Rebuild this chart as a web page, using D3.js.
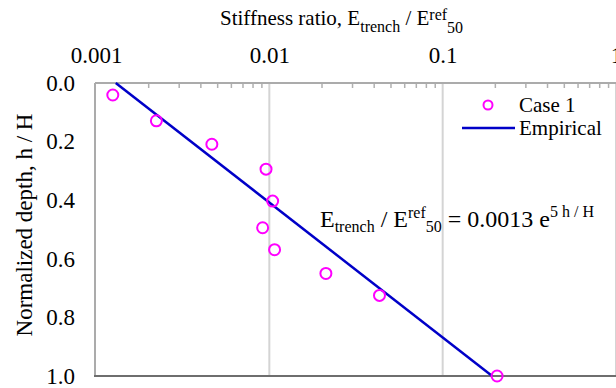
<!DOCTYPE html>
<html><head><meta charset="utf-8">
<script src="https://cdn.jsdelivr.net/npm/d3@7"></script>
<style>
body{margin:0;background:#fff;}
</style></head>
<body><svg id="c" width="616" height="388"></svg>
<script>
// Data
const caseRatio = [0.00125, 0.00223, 0.00466, 0.00957, 0.01045, 0.00915, 0.01072, 0.0212, 0.0432, 0.206];
const caseDepth = [0.041, 0.129, 0.209, 0.294, 0.403, 0.494, 0.569, 0.650, 0.725, 1.0];
const empiricalRatio = [0.0013, 0.193];
const empiricalDepth = [0.0, 1.0];
const xTickValues = [0.001, 0.01, 0.1, 1];
const xTickLabels = ["0.001", "0.01", "0.1", "1"];
const yTickValues = [0, 0.2, 0.4, 0.6, 0.8, 1.0];
const yTickLabels = ["0.0", "0.2", "0.4", "0.6", "0.8", "1.0"];

const FONT = '"Liberation Serif"';
const svg = d3.select("#c");
const L = 96, R = 616, T = 83, B = 376;
const x = d3.scaleLog().domain([0.001, 1]).range([L, R]);
const y = d3.scaleLinear().domain([0, 1]).range([T, B]);

// gridlines
svg.append("g").selectAll("line").data([0.01, 0.1, 1]).join("line")
  .attr("x1", d => x(d)).attr("x2", d => x(d)).attr("y1", T).attr("y2", B)
  .attr("stroke", "#d4d4d4").attr("stroke-width", 2);

// minor ticks on top (inward)
const minor = [];
[0.001, 0.01, 0.1].forEach(dec => { for (let k = 2; k <= 9; k++) minor.push(dec * k); });
const topAxis = d3.axisTop(x).tickValues(minor).tickSize(-5).tickFormat("");
const gTop = svg.append("g").attr("transform", `translate(0,${T})`).call(topAxis);
gTop.select(".domain").remove();
gTop.selectAll(".tick line").attr("stroke", "#b0b0b0").attr("stroke-width", 1.5);

// frame
svg.append("line").attr("x1", L - 1).attr("x2", R).attr("y1", T).attr("y2", T).attr("stroke", "#ababab").attr("stroke-width", 2);
svg.append("line").attr("x1", L - 1).attr("x2", L - 1).attr("y1", T).attr("y2", B).attr("stroke", "#ababab").attr("stroke-width", 2);
svg.append("line").attr("x1", L - 2).attr("x2", R).attr("y1", B).attr("y2", B).attr("stroke", "#6e6e6e").attr("stroke-width", 2);

// top tick labels
const xLab = d3.axisTop(x).tickValues(xTickValues).tickSize(0).tickPadding(0)
  .tickFormat((d, i) => xTickLabels[i]);
const gx = svg.append("g").attr("transform", `translate(0,63)`).call(xLab);
gx.select(".domain").remove();
gx.attr("font-family", null).attr("font-size", null);
gx.selectAll("text").style("font-family", FONT).style("font-size", "23px").attr("fill", "#000").attr("dy", 0);

// left tick labels
const yLab = d3.axisLeft(y).tickValues(yTickValues).tickSize(0).tickPadding(0)
  .tickFormat((d, i) => yTickLabels[i]);
const gy = svg.append("g").attr("transform", `translate(75,0)`).call(yLab);
gy.select(".domain").remove();
gy.attr("font-family", null).attr("font-size", null);
gy.selectAll("text").style("font-family", FONT).style("font-size", "23px").attr("fill", "#000");

// axis titles
const xt = svg.append("text").attr("x", 220).attr("y", 25)
  .style("font-family", FONT).attr("font-size", 21).attr("fill", "#000");
xt.append("tspan").text("Stiffness ratio, E");
xt.append("tspan").attr("font-size", 16).attr("dy", 6.5).text("trench");
xt.append("tspan").attr("dy", -6.5).text(" / E");
xt.append("tspan").attr("font-size", 16).attr("dy", -5).text("ref");
xt.append("tspan").attr("font-size", 16).attr("dy", 12.5).text("50");

svg.append("text").attr("transform", `translate(32,225) rotate(-90)`).attr("text-anchor", "middle")
  .style("font-family", FONT).attr("font-size", 23).attr("fill", "#000").text("Normalized depth, h / H");

// empirical line
const line = d3.line().x(d => x(d[0])).y(d => y(d[1]));
svg.append("path").datum(empiricalRatio.map((r, i) => [r, empiricalDepth[i]]))
  .attr("d", line).attr("fill", "none").attr("stroke", "#0000c8").attr("stroke-width", 2.5);

// points
svg.append("g").selectAll("circle").data(caseRatio.map((r, i) => [r, caseDepth[i]])).join("circle")
  .attr("cx", d => x(d[0])).attr("cy", d => y(d[1])).attr("r", 5.5)
  .attr("fill", "none").attr("stroke", "#ff00ff").attr("stroke-width", 2);

// annotation
const an = svg.append("text").attr("x", 320).attr("y", 227)
  .style("font-family", FONT).attr("font-size", 24).attr("fill", "#000");
an.append("tspan").text("E");
an.append("tspan").attr("font-size", 16).attr("dy", 5).text("trench");
an.append("tspan").attr("dy", -5).text(" / E");
an.append("tspan").attr("font-size", 16).attr("dy", -9).text("ref");
an.append("tspan").attr("font-size", 16).attr("dy", 14).text("50");
an.append("tspan").attr("dy", -5).text(" = 0.0013 e");
an.append("tspan").attr("font-size", 16).attr("dy", -10).text("5 h / H");

// legend
svg.append("circle").attr("cx", 488).attr("cy", 105).attr("r", 4.5).attr("fill", "none").attr("stroke", "#ff00ff").attr("stroke-width", 2);
svg.append("text").attr("x", 519).attr("y", 112).style("font-family", FONT).attr("font-size", 21).attr("fill", "#000").text("Case 1");
svg.append("line").attr("x1", 462).attr("x2", 515).attr("y1", 128).attr("y2", 128).attr("stroke", "#0000c8").attr("stroke-width", 2.5);
svg.append("text").attr("x", 519).attr("y", 135).style("font-family", FONT).attr("font-size", 21).attr("fill", "#000").text("Empirical");
</script></body></html>
